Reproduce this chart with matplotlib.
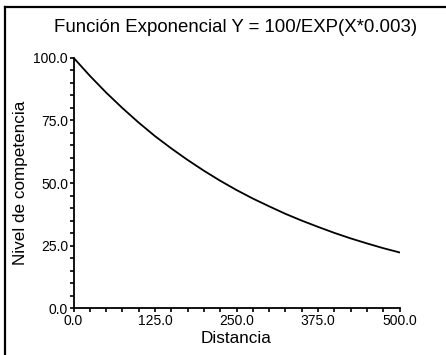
import matplotlib
matplotlib.use("Agg")
import matplotlib.pyplot as plt
from matplotlib.lines import Line2D
from matplotlib.ticker import MultipleLocator

distancia = [0, 25, 50, 75, 100, 125, 150, 175, 200, 225, 250, 275, 300, 325,
             350, 375, 400, 425, 450, 475, 500]
nivel = [100.0, 92.8, 86.1, 79.9, 74.1, 68.7, 63.8, 59.2, 54.9, 50.9, 47.2,
         43.8, 40.7, 37.7, 35.0, 32.5, 30.1, 27.9, 25.9, 24.0, 22.3]
x_ticks = [0.0, 125.0, 250.0, 375.0, 500.0]
y_ticks = [0.0, 25.0, 50.0, 75.0, 100.0]

plt.rcParams['font.family'] = ['Liberation Sans', 'DejaVu Sans']

fig = plt.figure(figsize=(4.46, 3.55), dpi=100)
ax = fig.add_axes([73.5 / 446, 1 - 308.3 / 355, 326 / 446, 250.6 / 355])

ax.plot(distancia, nivel, color='black', linewidth=1.3)
ax.set_xlim(0, 500)
ax.set_ylim(0, 100)
ax.set_xticks(x_ticks)
ax.set_yticks(y_ticks)
ax.set_xticklabels([f"{v:.1f}" for v in x_ticks])
ax.set_yticklabels([f"{v:.1f}" for v in y_ticks])
ax.xaxis.set_minor_locator(MultipleLocator(25))
ax.yaxis.set_minor_locator(MultipleLocator(5))
for s in ['top', 'right']:
    ax.spines[s].set_visible(False)
for s in ['left', 'bottom']:
    ax.spines[s].set_linewidth(1.3)
ax.tick_params(which='both', direction='out', length=3, width=1.2,
               labelsize=10, pad=1, colors='black')

ax.set_xlabel('Distancia', fontsize=12.3, labelpad=2)
ax.set_ylabel('Nivel de competencia', fontsize=12.3, labelpad=4)

fig.text(236 / 446, 1 - 31.5 / 355, 'Función Exponencial Y = 100/EXP(X*0.003)',
         ha='center', va='baseline', fontsize=13.4)

# outer frame (left and top edges)
fig.add_artist(Line2D([4.5 / 446, 4.5 / 446], [0, 1 - 7 / 355],
                      transform=fig.transFigure, color='black', linewidth=1.6))
fig.add_artist(Line2D([4.5 / 446, 1], [1 - 7 / 355, 1 - 7 / 355],
                      transform=fig.transFigure, color='black', linewidth=1.6))

fig.savefig('out.png', dpi=100)
